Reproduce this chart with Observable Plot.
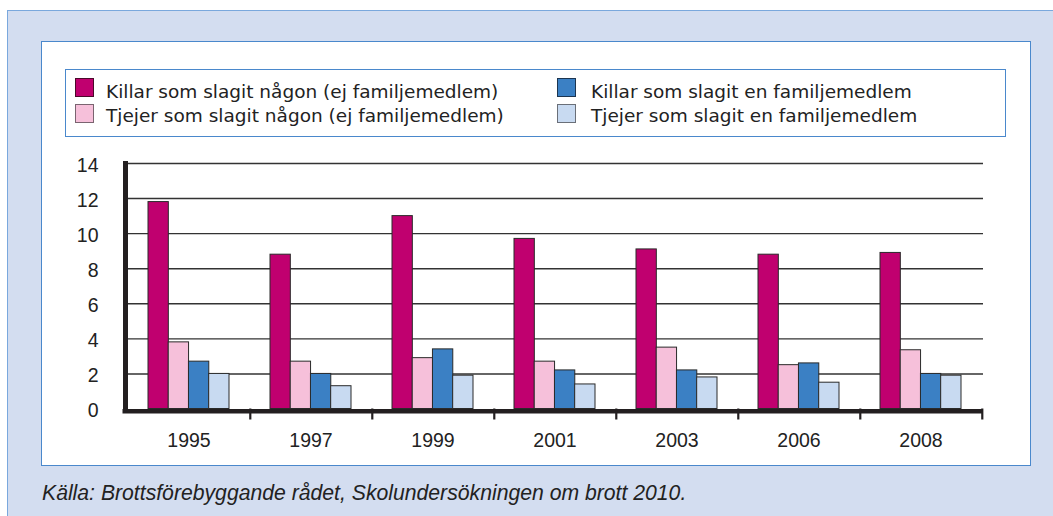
<!DOCTYPE html>
<html>
<head>
<meta charset="utf-8">
<script src="https://cdn.jsdelivr.net/npm/d3@7"></script>
<script src="https://cdn.jsdelivr.net/npm/@observablehq/plot@0.6"></script>
<style>
  body { margin:0; background:#fff; width:1053px; height:516px; position:relative; overflow:hidden; }
  #outer { position:absolute; left:7px; top:10px; right:0; bottom:0; background:#d3ddf0; border-left:1px solid #7aa8dd; border-top:1px solid #7aa8dd; }
  #inner { position:absolute; left:41px; top:41px; width:988px; height:423px; background:#fff; border:1px solid #4a88cc; }
  #legend { position:absolute; left:65px; top:69px; width:939px; height:66px; background:#fff; border:1px solid #4a88cc; font-family:"DejaVu Sans", Verdana, sans-serif; font-size:18.5px; line-height:18.5px; color:#222; }
  .sw { position:absolute; width:17px; height:17px; border:1px solid #333; box-sizing:content-box; }
  .tx { position:absolute; white-space:nowrap; }
  #chart { position:absolute; left:42px; top:145px; }
  #caption { position:absolute; left:42px; top:481px; font-family:"Liberation Sans", Arial, sans-serif; font-style:italic; font-size:21.2px; line-height:24px; color:#222; white-space:nowrap; }
</style>
</head>
<body>
<div id="outer"></div>
<div id="inner"></div>
<div id="legend"></div>
<div id="chart"></div>
<div id="caption">Källa: Brottsförebyggande rådet, Skolundersökningen om brott 2010.</div>
<script>
const years = ["1995", "1997", "1999", "2001", "2003", "2006", "2008"];
const series = [
  "Killar som slagit någon (ej familjemedlem)",
  "Tjejer som slagit någon (ej familjemedlem)",
  "Killar som slagit en familjemedlem",
  "Tjejer som slagit en familjemedlem"
];
const killarNagon  = [11.8, 8.8, 11.0, 9.7, 9.1, 8.8, 8.9];
const tjejerNagon  = [3.8, 2.7, 2.9, 2.7, 3.5, 2.5, 3.35];
const killarFamilj = [2.7, 2.0, 3.4, 2.2, 2.2, 2.6, 2.0];
const tjejerFamilj = [2.0, 1.3, 1.9, 1.4, 1.8, 1.5, 1.9];
const yTicks = [0, 2, 4, 6, 8, 10, 12, 14];
const colors = ["#c0006f", "#f6c0da", "#3b80c4", "#c8daf1"];
const swatchBorders = ["#4a0a2a", "#7a6470", "#1c3550", "#6a6f78"];

const values = [killarNagon, tjejerNagon, killarFamilj, tjejerFamilj];
const rows = [];
series.forEach((s, k) => years.forEach((y, i) => rows.push({year: y, series: s, k, value: values[k][i]})));

// Legend (HTML): [swatchLeft, swatchTop, textLeft, textTop] relative to legend box
const legend = document.getElementById("legend");
const legendPos = [[9, 8, 40, 13], [9, 34, 40, 36.5], [490.5, 8, 525, 13], [490.5, 34, 525, 36.5]];
series.forEach((s, k) => {
  const [sl, st, tl, tt] = legendPos[k];
  const sw = document.createElement("div");
  sw.className = "sw";
  sw.style.left = sl + "px"; sw.style.top = st + "px";
  sw.style.background = colors[k];
  sw.style.borderColor = swatchBorders[k];
  const tx = document.createElement("div");
  tx.className = "tx";
  tx.style.left = tl + "px"; tx.style.top = tt + "px";
  tx.textContent = s;
  legend.appendChild(sw); legend.appendChild(tx);
});

const W = 986, H = 310, ML = 83, MR = 45, MT = 18, MB = 46.5;
const pInner = 0.34, pOuter = 0.17;
const step = (W - ML - MR) / (years.length - pInner + 2 * pOuter);
const bw = step * (1 - pInner);
const sub = bw / series.length;

const marks = [
  Plot.ruleY(yTicks.filter(d => d > 0), {stroke: "#333", strokeWidth: 1.4}),
  ...series.map((s, k) => Plot.barY(rows.filter(r => r.k === k), {
    x: "year", y: "value", fill: "series", stroke: "#2a2a2a", strokeWidth: 1,
    insetLeft: k * sub, insetRight: (series.length - 1 - k) * sub
  })),
  Plot.ruleY([0], {stroke: "#231f20", strokeWidth: 4.5, dy: 2.2, insetLeft: -2.5}),
  Plot.frame({anchor: "left", stroke: "#231f20", strokeWidth: 5}),
  Plot.axisX({tickSize: 11, dx: step / 2, tickFormat: () => "", stroke: "#231f20", strokeWidth: 2.2}),
  Plot.axisX({tickSize: 0, tickPadding: 24, fontSize: 19.5, fill: "#222"}),
  Plot.axisY(yTicks, {tickSize: 0, tickPadding: 27, fontSize: 19.5, fill: "#222", dy: 2})
];

const chart = Plot.plot({
  width: W, height: H,
  marginLeft: ML, marginRight: MR, marginTop: MT, marginBottom: MB,
  style: {background: "transparent", fontFamily: "'Liberation Sans', Arial, sans-serif", overflow: "visible"},
  x: {domain: years, paddingInner: pInner, paddingOuter: pOuter, label: null},
  y: {domain: [0, 14], label: null},
  color: {domain: series, range: colors},
  marks
});
document.getElementById("chart").appendChild(chart);
</script>
</body>
</html>
